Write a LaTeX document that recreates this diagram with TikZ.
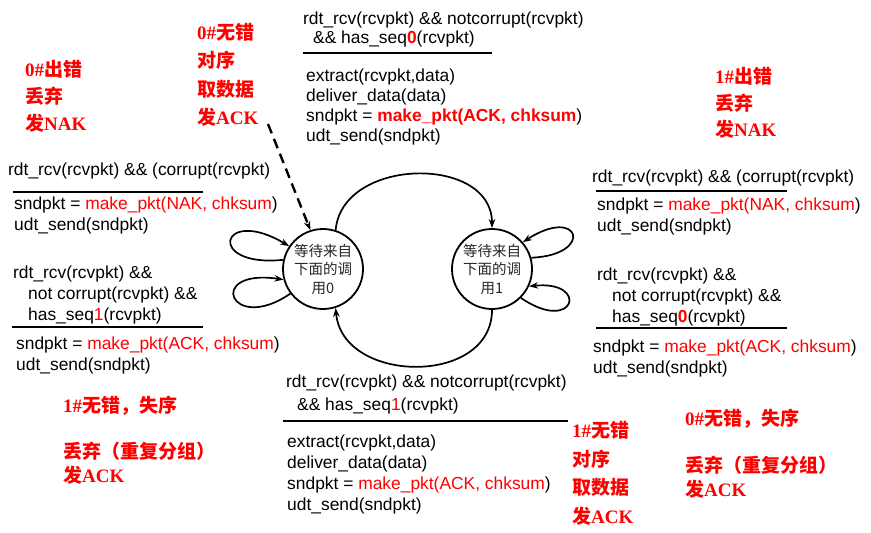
\documentclass[tikz,border=0pt]{standalone}
\usepackage{fontspec}
\setmainfont{Liberation Sans}
\newfontfamily\cjk{Noto Sans CJK SC}
\newfontfamily\ser{Liberation Serif}
\usetikzlibrary{arrows.meta}
\definecolor{rd}{RGB}{255,0,0}
\newcommand{\la}[1]{{\ser\bfseries #1}}
\newcommand{\ck}[1]{{\cjk\bfseries #1}}
\newcommand{\rr}[1]{\textcolor{rd}{#1}}
\newcommand{\rb}[1]{\textcolor{rd}{\bfseries #1}}
\tikzset{
  lbl/.style={anchor=base west, inner sep=0pt, font=\fontsize{17.4}{20}\selectfont},
  ann/.style={anchor=base west, inner sep=0pt, text=rd, font=\fontsize{19}{23}\selectfont},
  rulebar/.style={line width=2.6pt},
  st/.style={circle, draw, line width=1.8pt, minimum size=80pt, inner sep=0pt, align=center,
             font=\cjk\fontsize{14.5}{18.5}\selectfont, text=black!85},
  tr/.style={line width=1.7pt, -{Stealth[length=9pt,width=6.5pt]}},
}
\begin{document}
\begin{tikzpicture}[x=1pt,y=-1pt]
\useasboundingbox (0,0) rectangle (871,533);

% states
\node[st] (s0) at (323,269) {等待来自\\下面的调\\用0};
\node[st] (s1) at (492,269) {等待来自\\下面的调\\用1};

% top center block
\node[lbl] (t1) at (303,24) {rdt\_rcv(rcvpkt) \&\& notcorrupt(rcvpkt)};
\node[lbl] (t2) at (313,43) {\&\& has\_seq\rb{0}(rcvpkt)};
\coordinate (tra) at (303,53); \coordinate (trb) at (492,53);
\draw[rulebar] (tra) -- (trb);
\node[lbl] (t3) at (306,81) {extract(rcvpkt,data)};
\node[lbl] (t4) at (306,101) {deliver\_data(data)};
\node[lbl] (t5) at (306,121) {sndpkt = \rb{make\_pkt(ACK, chksum})};
\node[lbl] (t6) at (306,141) {udt\_send(sndpkt)};

% left upper block
\node[lbl] (l1) at (8,175) {rdt\_rcv(rcvpkt) \&\& (corrupt(rcvpkt)};
\coordinate (lra) at (13,192); \coordinate (lrb) at (203,192);
\draw[rulebar] (lra) -- (lrb);
\node[lbl] (l2) at (14,209) {sndpkt = \rr{make\_pkt(NAK, chksum})};
\node[lbl] (l3) at (14,230) {udt\_send(sndpkt)};

% left lower block
\node[lbl] (l4) at (13,278) {rdt\_rcv(rcvpkt) \&\&};
\node[lbl] (l5) at (28,299) {not corrupt(rcvpkt) \&\&};
\node[lbl] (l6) at (28,320) {has\_seq\rr{1}(rcvpkt)};
\coordinate (lrc) at (12,327); \coordinate (lrd) at (203,327);
\draw[rulebar] (lrc) -- (lrd);
\node[lbl] (l7) at (16,349) {sndpkt = \rr{make\_pkt(ACK, chksum})};
\node[lbl] (l8) at (16,370) {udt\_send(sndpkt)};

% right upper block
\node[lbl] (r1) at (592,182) {rdt\_rcv(rcvpkt) \&\& (corrupt(rcvpkt)};
\coordinate (rra) at (596,191); \coordinate (rrb) at (787,191);
\draw[rulebar] (rra) -- (rrb);
\node[lbl] (r2) at (597,210) {sndpkt = \rr{make\_pkt(NAK, chksum})};
\node[lbl] (r3) at (597,231) {udt\_send(sndpkt)};

% right lower block
\node[lbl] (r4) at (597,280) {rdt\_rcv(rcvpkt) \&\&};
\node[lbl] (r5) at (612,301) {not corrupt(rcvpkt) \&\&};
\node[lbl] (r6) at (612,322) {has\_seq\rb{0}(rcvpkt)};
\coordinate (rrc) at (596,328); \coordinate (rrd) at (787,328);
\draw[rulebar] (rrc) -- (rrd);
\node[lbl] (r7) at (593,352) {sndpkt = \rr{make\_pkt(ACK, chksum})};
\node[lbl] (r8) at (593,373) {udt\_send(sndpkt)};

% bottom block
\node[lbl] (b1) at (286,387) {rdt\_rcv(rcvpkt) \&\& notcorrupt(rcvpkt)};
\node[lbl] (b2) at (297,410) {\&\& has\_seq\rr{1}(rcvpkt)};
\coordinate (bra) at (283,421); \coordinate (brb) at (568,421);
\draw[rulebar] (bra) -- (brb);
\node[lbl] (b3) at (287,447) {extract(rcvpkt,data)};
\node[lbl] (b4) at (287,468) {deliver\_data(data)};
\node[lbl] (b5) at (287,489) {sndpkt = \rr{make\_pkt(ACK, chksum})};
\node[lbl] (b6) at (287,510) {udt\_send(sndpkt)};

% red annotations
\node[ann] (a1) at (25,76) {\la{0\#}\ck{出错}};
\node[ann] (a2) at (25,103) {\ck{丢弃}};
\node[ann] (a3) at (25,130) {\ck{发}\la{NAK}};

\node[ann] (a4) at (197,39) {\la{0\#}\ck{无错}};
\node[ann] (a5) at (197,67) {\ck{对序}};
\node[ann] (a6) at (197,96) {\ck{取数据}};
\node[ann] (a7) at (197,124) {\ck{发}\la{ACK}};

\node[ann] (a8) at (715,83) {\la{1\#}\ck{出错}};
\node[ann] (a9) at (715,110) {\ck{丢弃}};
\node[ann] (a10) at (715,136) {\ck{发}\la{NAK}};

\node[ann] (a11) at (63,412) {\la{1\#}\ck{无错，失序}};
\node[ann] (a12) at (63,458) {\ck{丢弃（重复分组）}};
\node[ann] (a13) at (63,482) {\ck{发}\la{ACK}};

\node[ann] (a14) at (572,437) {\la{1\#}\ck{无错}};
\node[ann] (a15) at (572,466) {\ck{对序}};
\node[ann] (a16) at (572,494) {\ck{取数据}};
\node[ann] (a17) at (572,523) {\ck{发}\la{ACK}};

\node[ann] (a18) at (685,425) {\la{0\#}\ck{无错，失序}};
\node[ann] (a19) at (685,472) {\ck{丢弃（重复分组）}};
\node[ann] (a20) at (685,496) {\ck{发}\la{ACK}};

% transitions
\coordinate (d0) at (268,124);
\draw[tr, line width=2.4pt, dash pattern=on 10pt off 6pt] (d0) -- (s0.108);
\draw[tr] (s0.72) to[out=85,in=90,looseness=1.2] (s1.north);
\draw[tr] (s1.south) to[out=-90,in=-85,looseness=1.25] (s0.-72);
\draw[tr] (s0.167) .. controls (205,268) and (220,205) .. (s0.146);
\draw[tr] (s0.217) .. controls (230,335) and (205,268) .. (s0.195);
\draw[tr] (s1.16) .. controls (595,255) and (580,205) .. (s1.41);
\draw[tr] (s1.-45) .. controls (575,335) and (590,280) .. (s1.-25);
\end{tikzpicture}
\end{document}
